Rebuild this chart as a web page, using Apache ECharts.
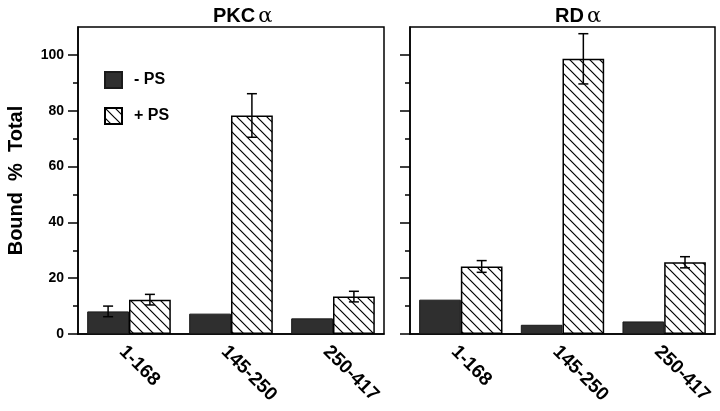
<!DOCTYPE html>
<html>
<head>
<meta charset="utf-8">
<script src="https://cdn.jsdelivr.net/npm/echarts@6/dist/echarts.min.js"></script>
<style>
	html,body{margin:0;padding:0;background:#fff;}
	#chart{width:720px;height:411px;}
</style>
</head>
<body>
<div id="chart"></div>
<script>
var categories = ['1-168', '145-250', '250-417'];
// PKCα panel
var pkcMinus = [8.1, 7.3, 5.6];
var pkcMinusErr = [1.9, 0, 0];
var pkcPlus = [12.3, 78.3, 13.4];
var pkcPlusErr = [1.9, 7.8, 1.9];
// RDα panel
var rdMinus = [12.3, 3.3, 4.5];
var rdMinusErr = [0, 0, 0];
var rdPlus = [24.2, 98.6, 25.7];
var rdPlusErr = [2.1, 9.0, 2.0];
// y axis
var majorTicks = [0, 20, 40, 60, 80, 100];
var minorTicks = [10, 30, 50, 70, 90];

var FONT = '"Liberation Sans", Arial, Helvetica, sans-serif';
var GAP = 0.18;

function buildHatch(){
	var c = document.createElement('canvas');
	c.width = 10; c.height = 10;
	var g = c.getContext('2d');
	g.fillStyle = '#fff';
	g.fillRect(0, 0, 10, 10);
	g.strokeStyle = '#000';
	g.lineWidth = 1.2;
	g.beginPath();
	g.moveTo(0, 0); g.lineTo(10, 10);
	g.moveTo(-2, 8); g.lineTo(2, 12);
	g.moveTo(8, -2); g.lineTo(12, 2);
	g.stroke();
	return c;
}
var hatch = {image: buildHatch(), repeat: 'repeat'};

// error bars: [category, value, err, side]
function errData(vals, errs, side){
	var out = [];
	for (var i = 0; i < vals.length; i++) {
		if (errs[i] > 0) out.push([i, vals[i], errs[i], side]);
	}
	return out;
}
function renderErr(params, api){
	var idx = api.value(0), v = api.value(1), e = api.value(2), side = api.value(3);
	var c = api.coord([idx, v]);
	var bw = api.size([1, 0])[0] * (1 - GAP) / 2;
	var x = c[0] + side * bw / 2;
	var yt = api.coord([idx, v + e])[1];
	var yb = api.coord([idx, v - e])[1];
	var hw = 5;
	var st = {stroke: '#000', lineWidth: 1.5};
	return {
		type: 'group',
		children: [
			{type: 'line', shape: {x1: x, y1: yt, x2: x, y2: yb}, style: st},
			{type: 'line', shape: {x1: x - hw, y1: yt, x2: x + hw, y2: yt}, style: st},
			{type: 'line', shape: {x1: x - hw, y1: yb, x2: x + hw, y2: yb}, style: st}
		]
	};
}

function majorAxis(grid, showLabel){
	return {
		type: 'value', gridIndex: grid, position: 'left', min: 0, max: 110,
		name: showLabel ? 'Bound  %  Total' : '',
		nameLocation: 'middle', nameGap: 52, nameRotate: 90,
		nameTextStyle: {fontFamily: FONT, fontWeight: 'bold', fontSize: 20, color: '#000'},
		axisLine: {show: true, lineStyle: {color: '#000', width: 1.5}},
		axisTick: {show: true, length: 10, customValues: majorTicks, lineStyle: {color: '#000', width: 1.5}},
		axisLabel: {show: showLabel, customValues: majorTicks, margin: 14, fontFamily: FONT, fontWeight: 'bold', fontSize: 14, color: '#000'},
		splitLine: {show: false}
	};
}
function minorAxis(grid){
	return {
		type: 'value', gridIndex: grid, position: 'left', offset: 0, min: 0, max: 110,
		axisLine: {show: false},
		axisTick: {show: true, length: 5, customValues: minorTicks, lineStyle: {color: '#000', width: 1.5}},
		axisLabel: {show: false},
		splitLine: {show: false}
	};
}
function catAxis(grid){
	return {
		type: 'category', gridIndex: grid, data: categories,
		axisLine: {lineStyle: {color: '#000', width: 1.5}},
		axisTick: {show: false},
		axisLabel: {rotate: -45, margin: 8, verticalAlign: 'top', fontFamily: FONT, fontWeight: 'bold', fontSize: 19, color: '#000'}
	};
}
function barSeries(name, grid, yIdx, data, plus){
	return {
		name: name, type: 'bar', xAxisIndex: grid, yAxisIndex: yIdx, data: data,
		barGap: '0%', barCategoryGap: (GAP * 100) + '%',
		itemStyle: plus ? {color: hatch, borderColor: '#000', borderWidth: 1.5}
			: {color: '#2f2f2f', borderColor: '#1a1a1a', borderWidth: 1}
	};
}
function errSeries(grid, yIdx, data){
	return {
		type: 'custom', xAxisIndex: grid, yAxisIndex: yIdx, z: 5,
		renderItem: renderErr, data: data, silent: true
	};
}

var chart = echarts.init(document.getElementById('chart'), null, {renderer: 'canvas'});
var titleRich = {
	a: {fontFamily: FONT, fontWeight: 'bold', fontSize: 20, color: '#000'},
	b: {fontFamily: '"DejaVu Serif", "Liberation Serif", serif', fontWeight: 'normal', fontSize: 21, color: '#000', padding: [0, 0, 0, 3]}
};
var option = {
	animation: false,
	backgroundColor: '#fff',
	title: [
		{text: '{a|PKC}{b|α}', left: 208, top: 1, textStyle: {rich: titleRich}},
		{text: '{a|RD}{b|α}', left: 550, top: 1, textStyle: {rich: titleRich}}
	],
	legend: {
		orient: 'vertical', left: 99, top: 66, itemWidth: 17, itemHeight: 16, itemGap: 18,
		icon: 'rect',
		data: ['- PS', '+ PS'], selectedMode: false,
		textStyle: {fontFamily: FONT, fontWeight: 'bold', fontSize: 16, color: '#000', padding: [0, 0, 0, 7]}
	},
	grid: [
		{left: 78, top: 27, width: 306, height: 307, show: true, borderColor: '#000', borderWidth: 1.5, backgroundColor: 'transparent'},
		{left: 410, top: 27, width: 305, height: 307, show: true, borderColor: '#000', borderWidth: 1.5, backgroundColor: 'transparent'}
	],
	xAxis: [catAxis(0), catAxis(1)],
	yAxis: [majorAxis(0, true), minorAxis(0), majorAxis(1, false), minorAxis(1)],
	series: [
		barSeries('- PS', 0, 0, pkcMinus, false),
		barSeries('+ PS', 0, 0, pkcPlus, true),
		barSeries('- PS', 1, 2, rdMinus, false),
		barSeries('+ PS', 1, 2, rdPlus, true),
		errSeries(0, 0, errData(pkcMinus, pkcMinusErr, -1).concat(errData(pkcPlus, pkcPlusErr, 1))),
		errSeries(1, 2, errData(rdMinus, rdMinusErr, -1).concat(errData(rdPlus, rdPlusErr, 1)))
	]
};
chart.setOption(option);
</script>
</body>
</html>
